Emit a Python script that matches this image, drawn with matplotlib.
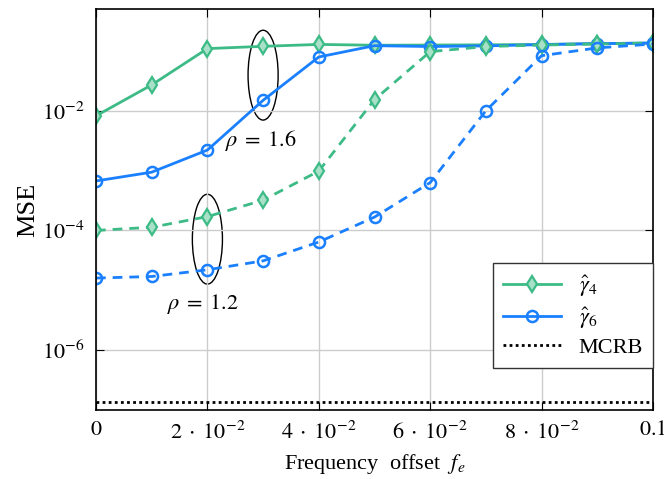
import numpy as np
import matplotlib
matplotlib.use('Agg')
import matplotlib.pyplot as plt
from matplotlib.patches import Ellipse
from matplotlib.transforms import blended_transform_factory

plt.rcParams['font.family'] = ['Liberation Serif', 'DejaVu Serif']
plt.rcParams['mathtext.fontset'] = 'stix'
plt.rcParams['font.size'] = 16

# частотний зсув
fe = [0.0, 0.01, 0.02, 0.03, 0.04, 0.05, 0.06, 0.07, 0.08, 0.09, 0.1]

# rho = 1.6 (суцільні)
g4_16 = [8.2e-3, 0.027, 0.109, 0.119, 0.128, 0.124, 0.125, 0.126, 0.128, 0.132, 0.135]
g6_16 = [6.7e-4, 9.4e-4, 2.2e-3, 0.0149, 0.079, 0.122, 0.118, 0.121, 0.127, 0.132, 0.135]

# rho = 1.2 (пунктирні)
g4_12 = [1.0e-4, 1.13e-4, 1.7e-4, 3.2e-4, 9.8e-4, 0.0153, 0.097, 0.118, 0.125, 0.13, 0.135]
g6_12 = [1.6e-5, 1.7e-5, 2.2e-5, 3.1e-5, 6.4e-5, 1.67e-4, 6.3e-4, 1.0e-2, 0.083, 0.112, 0.13]

mcrb = 1.36e-7

x_ticks = [0, 0.02, 0.04, 0.06, 0.08, 0.1]
x_labels = ['$0$', r'$2\;\cdot\;10^{-2}$', r'$4\;\cdot\;10^{-2}$', r'$6\;\cdot\;10^{-2}$',
            r'$8\;\cdot\;10^{-2}$', '$0.1$']
y_ticks = [1e-6, 1e-4, 1e-2]
y_labels = ['$10^{-6}$', '$10^{-4}$', '$10^{-2}$']

green = '#3dbb86'
blue = '#1a80ff'
green_fill = '#a8e0c8'

fig = plt.figure(figsize=(6.64, 4.79), dpi=100)
ax = fig.add_axes([96 / 664, 69 / 479, 557 / 664, 401 / 479])

ax.plot(fe, g4_16, color=green, lw=2, marker='d', ms=8, mfc=green_fill, mec=green, mew=1.6,
        label=r'$\hat{\gamma}_4$')
ax.plot(fe, g6_16, color=blue, lw=2, marker='o', ms=8, mfc='none', mew=1.8, label=r'$\hat{\gamma}_6$')
ax.plot(fe, g4_12, color=green, lw=2, ls=(0, (3.5, 2.5)), marker='d', ms=8, mfc=green_fill, mec=green, mew=1.6)
ax.plot(fe, g6_12, color=blue, lw=2, ls=(0, (3.5, 2.5)), marker='o', ms=8, mfc='none', mew=1.8)
ax.axhline(mcrb, color='black', lw=2, ls=(0, (1, 1.2)), label='MCRB')

ax.set_yscale('log')
ax.set_xlim(0, 0.1)
ax.set_ylim(1e-7, 0.5)
ax.set_xticks(x_ticks)
ax.set_xticklabels(x_labels)
ax.set_yticks(y_ticks)
ax.set_yticklabels(y_labels)
ax.minorticks_off()
ax.tick_params(direction='in', top=True, right=True, length=6, pad=8, labelsize=16)
ax.grid(True, color='#cccccc', lw=1)
for s in ax.spines.values():
    s.set_linewidth(1.2)

ax.set_xlabel('Frequency  offset  $f_e$', fontsize=16, labelpad=6)
ax.set_ylabel('MSE', fontsize=19, labelpad=2)

# еліпси навколо кривих
tr = blended_transform_factory(ax.transData, ax.transAxes)
ax.add_patch(Ellipse((0.03, 0.835), 0.0054, 0.224, transform=tr, fill=False, ec='black', lw=1))
ax.add_patch(Ellipse((0.02, 0.426), 0.0054, 0.224, transform=tr, fill=False, ec='black', lw=1))
ax.text(0.0232, 0.673, r'$\rho\;=\;1.6$', transform=tr, fontsize=16, va='center')
ax.text(0.0128, 0.264, r'$\rho\;=\;1.2$', transform=tr, fontsize=16, va='center')

leg = ax.legend(loc='lower right', bbox_to_anchor=(1.0, 0.105), borderaxespad=0,
                fancybox=False, edgecolor='#333333', framealpha=1, fontsize=16,
                handlelength=2.6, labelspacing=0.3, borderpad=0.45)
leg.get_frame().set_linewidth(1)

fig.savefig('out.png', dpi=100)
